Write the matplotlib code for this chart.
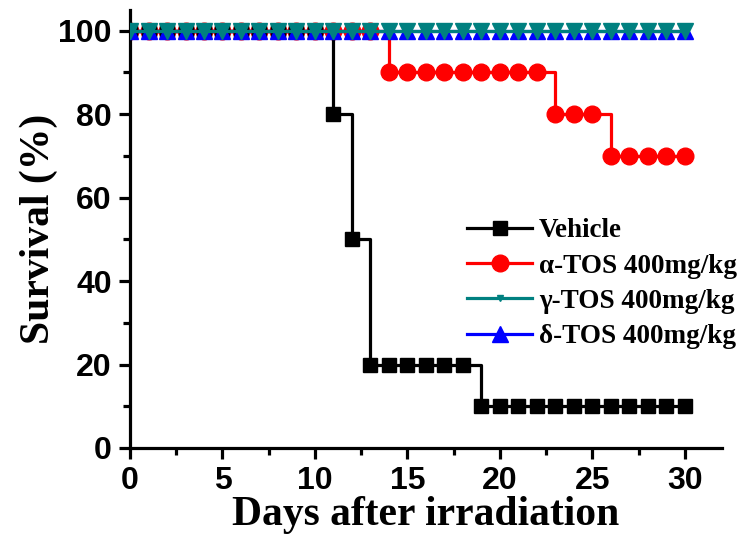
import numpy as np
import matplotlib.pyplot as plt
from matplotlib.ticker import MultipleLocator

# survival data, one point per day
days = np.arange(0, 31)
vehicle = [100] * 11 + [80, 50] + [20] * 6 + [10] * 12
alpha_tos = [100] * 14 + [90] * 9 + [80] * 3 + [70] * 5
gamma_tos = [100] * 31
delta_tos = [100] * 31

labels = ['Vehicle', 'α-TOS 400mg/kg', 'γ-TOS 400mg/kg', 'δ-TOS 400mg/kg']

fig = plt.figure(figsize=(7.41, 5.48), dpi=100)
ax = fig.add_axes([0.1755, 0.1825, 0.7985, 0.7995])

lw = 2.3
ax.step(days, vehicle, where='post', color='black', lw=lw, marker='s',
        markersize=10, label=labels[0], zorder=3)
ax.step(days, alpha_tos, where='post', color='red', lw=lw, marker='o',
        markersize=12, label=labels[1], zorder=2)
ax.step(days, delta_tos, where='post', color='blue', lw=lw, marker='^',
        markersize=11, label=labels[3], zorder=4)
ax.step(days, gamma_tos, where='post', color='#008080', lw=lw, marker='v',
        markersize=11, label=labels[2], zorder=5)

ax.set_xlim(0, 32)
ax.set_ylim(0, 105)
ax.xaxis.set_major_locator(MultipleLocator(5))
ax.xaxis.set_minor_locator(MultipleLocator(2.5))
ax.yaxis.set_major_locator(MultipleLocator(20))
ax.yaxis.set_minor_locator(MultipleLocator(10))

for s in ['top', 'right']:
    ax.spines[s].set_visible(False)
for s in ['left', 'bottom']:
    ax.spines[s].set_linewidth(2.3)
ax.tick_params(which='major', length=8, width=2.3, direction='out')
ax.tick_params(which='minor', length=5, width=2.3, direction='out')
for lab in ax.get_xticklabels() + ax.get_yticklabels():
    lab.set_fontfamily('Liberation Sans')
    lab.set_fontweight('bold')
    lab.set_fontsize(23)
ax.tick_params(axis='x', pad=5)
ax.tick_params(axis='y', pad=5)

ax.set_xlabel('Days after irradiation', fontfamily='Liberation Serif',
              fontweight='bold', fontsize=30, labelpad=0)
ax.set_ylabel('Survival (%)', fontfamily='Liberation Serif',
              fontweight='bold', fontsize=30, labelpad=0)

h, l = ax.get_legend_handles_labels()
order = [0, 1, 3, 2]
leg = ax.legend([h[i] for i in order], [l[i] for i in order],
                loc='center left', bbox_to_anchor=(0.57, 0.375),
                frameon=False, borderpad=0, borderaxespad=0,
                handlelength=2.4, handletextpad=0.25, labelspacing=0.38,
                prop={'family': 'Liberation Serif', 'weight': 'bold', 'size': 19.5})
# smaller markers in the legend, gamma one is tiny
for hd, ms in zip(leg.legend_handles, [10, 12, 5, 12]):
    hd.set_markersize(ms)

fig.savefig('out.png', dpi=100)
